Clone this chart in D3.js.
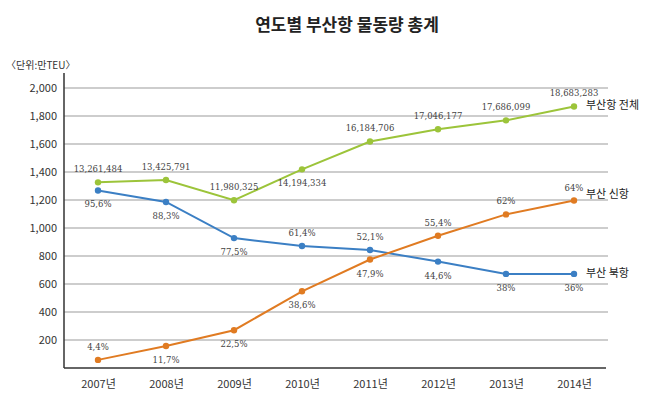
<!DOCTYPE html>
<html>
<head>
<meta charset="utf-8">
<script src="https://cdn.jsdelivr.net/npm/d3@7"></script>
<style>
  body { margin: 0; background: #fff; }
  svg text { font-family: "Noto Sans CJK KR", "Noto Sans", sans-serif; }
  svg text.val { font-family: "DejaVu Serif", "Liberation Serif", serif; }
</style>
</head>
<body>
<div id="main"></div>
<script>
// ====== data (만TEU) ======
var years = ["2007년", "2008년", "2009년", "2010년", "2011년", "2012년", "2013년", "2014년"];
var totalVals = [1326, 1343, 1198, 1419, 1618, 1705, 1769, 1868];
var totalLabels = ["13,261,484", "13,425,791", "11,980,325", "14,194,334", "16,184,706", "17,046,177", "17,686,099", "18,683,283"];
var northVals = [1268, 1186, 928, 871, 843, 760, 672, 672];
var northLabels = ["95,6%", "88,3%", "77,5%", "61,4%", "52,1%", "44,6%", "38%", "36%"];
var newVals = [58, 157, 270, 548, 775, 945, 1097, 1196];
var newLabels = ["4,4%", "11,7%", "22,5%", "38,6%", "47,9%", "55,4%", "62%", "64%"];
var yTicks = [200, 400, 600, 800, 1000, 1200, 1400, 1600, 1800, 2000];

var width = 650, height = 396,
    plot = {left: 64, right: 608, top: 73, bottom: 368};

var svg = d3.select("#main").append("svg")
    .attr("width", width)
    .attr("height", height);

var x = d3.scalePoint().domain(years).range([plot.left, plot.right]).padding(0.5);
var y = d3.scaleLinear().domain([0, 2000]).range([plot.bottom, plot.bottom - 28 * 10]);

// title
svg.append("text")
  .attr("x", 347).attr("y", 31)
  .attr("text-anchor", "middle")
  .attr("font-size", "17px").attr("font-weight", "bold").attr("fill", "#222")
  .text("연도별 부산항 물동량 총계");

svg.append("text")
  .attr("x", 6).attr("y", 69)
  .attr("font-size", "10px").attr("fill", "#333")
  .text("〈단위:만TEU〉");

// grid
svg.append("g").selectAll("line")
  .data(yTicks).enter().append("line")
  .attr("x1", plot.left).attr("x2", plot.right)
  .attr("y1", function(d){ return y(d); })
  .attr("y2", function(d){ return y(d); })
  .attr("stroke", "#bdbdbd").attr("stroke-width", 1.5);

// y axis labels
var yAxis = d3.axisLeft(y).tickValues(yTicks).tickSize(0).tickPadding(7).tickFormat(d3.format(","));
var gy = svg.append("g").attr("transform", "translate(" + plot.left + ",0)").call(yAxis);
gy.select(".domain").remove();
gy.selectAll("text").attr("font-size", "11px").attr("fill", "#333");

// x axis labels
var xAxis = d3.axisBottom(x).tickSize(0).tickPadding(12);
var gx = svg.append("g").attr("transform", "translate(0," + plot.bottom + ")").call(xAxis);
gx.select(".domain").remove();
gx.selectAll("text").attr("font-size", "11px").attr("fill", "#333");

// axis lines
svg.append("line").attr("x1", plot.left).attr("x2", plot.left)
  .attr("y1", plot.top).attr("y2", plot.bottom)
  .attr("stroke", "#333").attr("stroke-width", 1.5);
svg.append("line").attr("x1", plot.left).attr("x2", plot.right - 2)
  .attr("y1", plot.bottom).attr("y2", plot.bottom)
  .attr("stroke", "#333").attr("stroke-width", 1.5);

var series = [
  {name: "부산항 전체", vals: totalVals, labels: totalLabels, color: "#9cc43a",
   pos: [-1, -1, -1, 1, -1, -1, -1, -1], nameY: 109},
  {name: "부산 북항", vals: northVals, labels: northLabels, color: "#3b7fc4",
   pos: [1, 1, 1, -1, -1, 1, 1, 1], nameY: 277},
  {name: "부산 신항", vals: newVals, labels: newLabels, color: "#e07b22",
   pos: [-1, 1, 1, 1, 1, -1, -1, -1], nameY: 198}
];

var line = d3.line()
  .x(function(d, i){ return x(years[i]); })
  .y(function(d){ return y(d); });

series.forEach(function(s){
  var g = svg.append("g");
  g.append("path")
    .attr("d", line(s.vals))
    .attr("fill", "none")
    .attr("stroke", s.color)
    .attr("stroke-width", 2);

  g.selectAll("circle")
    .data(s.vals).enter().append("circle")
    .attr("cx", function(d, i){ return x(years[i]); })
    .attr("cy", function(d){ return y(d); })
    .attr("r", 3.2)
    .attr("fill", s.color);

  g.selectAll("text.val")
    .data(s.vals).enter().append("text")
    .attr("class", "val")
    .attr("x", function(d, i){ return x(years[i]); })
    .attr("y", function(d, i){ return y(d) + (s.pos[i] < 0 ? -10 : 17); })
    .attr("text-anchor", "middle")
    .attr("font-size", "8.5px")
    .attr("fill", "#444")
    .text(function(d, i){ return s.labels[i]; });

  g.append("text")
    .attr("x", 586).attr("y", s.nameY)
    .attr("font-size", "11px").attr("fill", "#222")
    .text(s.name);
});
</script>
</body>
</html>
